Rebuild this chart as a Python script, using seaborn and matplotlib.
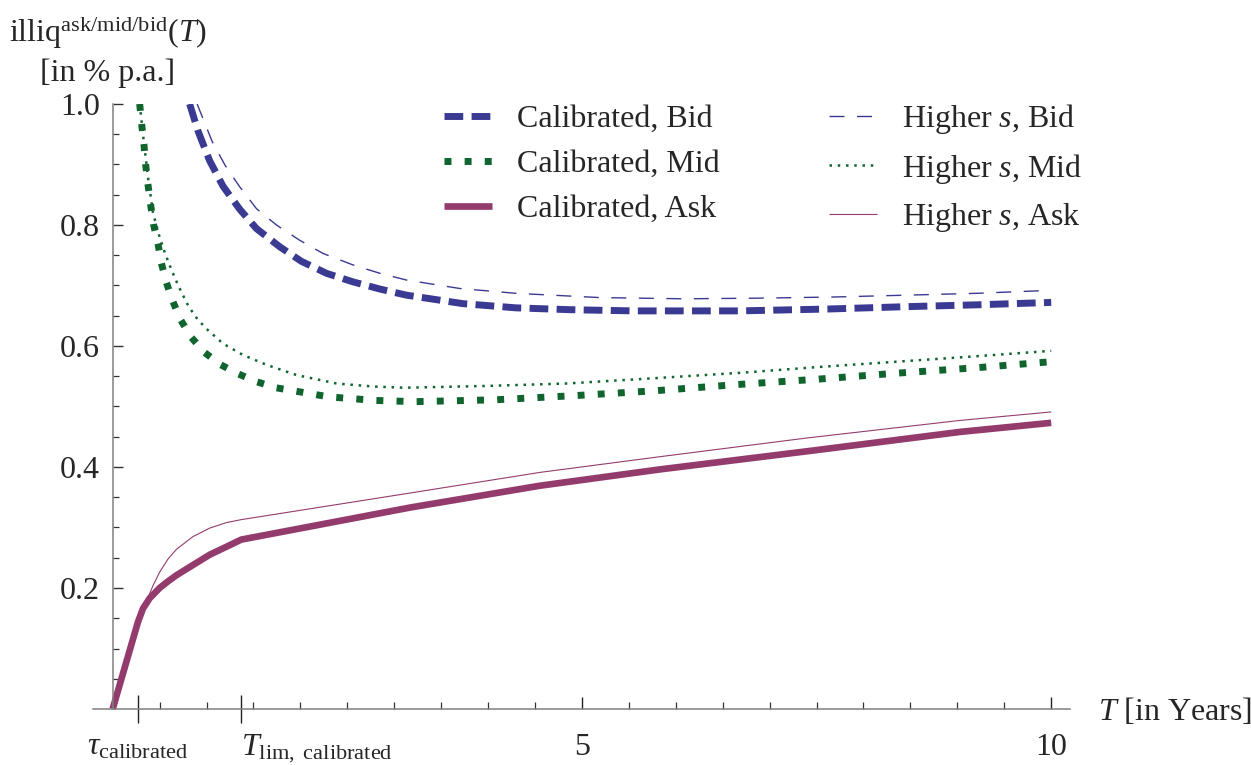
import numpy as np
import pandas as pd
import matplotlib
matplotlib.use("Agg")
import matplotlib.pyplot as plt
import matplotlib.lines as mlines
import seaborn as sns

# ---------------- data ----------------
tau_cal = 0.27
t_lim_cal = 1.365

bid_cal_x = [0.82, 0.91, 1.034, 1.176, 1.354, 1.532, 1.78, 2.01, 2.28, 2.56, 2.85, 3.13,
             3.73, 4.3, 4.87, 5.55, 6.67, 7.6, 8.46, 9.2, 10.0]
bid_cal_y = [1.0, 0.955, 0.906, 0.864, 0.826, 0.794, 0.764, 0.740, 0.720, 0.706, 0.694, 0.684,
             0.670, 0.663, 0.660, 0.658, 0.658, 0.661, 0.665, 0.668, 0.672]

bid_hi_x = [0.90, 1.06, 1.2, 1.354, 1.532, 1.745, 1.99, 2.24, 2.56, 2.85, 3.13, 3.7,
            4.3, 5.19, 6.08, 6.86, 7.7, 8.46, 9.2, 10.0]
bid_hi_y = [1.0, 0.938, 0.898, 0.863, 0.827, 0.800, 0.775, 0.753, 0.734, 0.720, 0.709, 0.695,
            0.687, 0.680, 0.678, 0.679, 0.681, 0.684, 0.687, 0.692]

mid_cal_x = [0.288, 0.31, 0.334, 0.352, 0.377, 0.405, 0.437, 0.483, 0.519, 0.572, 0.643, 0.725,
             0.839, 0.981, 1.151, 1.336, 1.532, 1.738, 2.3, 2.8, 3.22, 4.07, 4.93, 5.78,
             6.63, 7.5, 8.35, 9.2, 10.0]
mid_cal_y = [1.0, 0.965, 0.932, 0.899, 0.866, 0.833, 0.800, 0.769, 0.737, 0.705, 0.673, 0.643,
             0.614, 0.589, 0.569, 0.554, 0.541, 0.531, 0.516, 0.510, 0.508, 0.511, 0.518, 0.526,
             0.536, 0.545, 0.555, 0.564, 0.574]

mid_hi_x = [0.288, 0.33, 0.38, 0.43, 0.50, 0.554, 0.608, 0.661, 0.714, 0.81, 0.91, 1.016,
            1.176, 1.39, 1.638, 1.958, 2.385, 2.775, 3.11, 4.0, 4.84, 5.8, 6.72, 7.5, 8.35,
            9.2, 10.0]
mid_hi_y = [1.0, 0.94, 0.875, 0.82, 0.780, 0.755, 0.733, 0.713, 0.695, 0.665, 0.643, 0.626,
            0.604, 0.585, 0.569, 0.552, 0.538, 0.533, 0.531, 0.534, 0.538, 0.547, 0.556, 0.565,
            0.574, 0.583, 0.592]

ask_cal_x = [0.0, 0.27, 0.323, 0.394, 0.5, 0.59, 0.679, 0.856, 1.034, 1.21, 1.37, 3.17, 4.55,
             5.83, 7.4, 9.03, 10.0]
ask_cal_y = [0.0, 0.144, 0.166, 0.183, 0.200, 0.211, 0.221, 0.238, 0.255, 0.268, 0.280, 0.333,
             0.369, 0.396, 0.426, 0.458, 0.473]

ask_hi_x = [0.0, 0.27, 0.33, 0.387, 0.43, 0.5, 0.59, 0.68, 0.856, 1.034, 1.21, 1.37, 3.17,
            4.55, 5.83, 7.4, 9.03, 10.0]
ask_hi_y = [0.0, 0.144, 0.168, 0.188, 0.204, 0.226, 0.248, 0.264, 0.285, 0.299, 0.308, 0.313,
            0.357, 0.391, 0.417, 0.448, 0.477, 0.491]

labels_cal = ["Calibrated, Bid", "Calibrated, Mid", "Calibrated, Ask"]
labels_hi = [r"Higher $s$, Bid", r"Higher $s$, Mid", r"Higher $s$, Ask"]

y_major = [0.2, 0.4, 0.6, 0.8, 1.0]
y_major_labels = ["0.2", "0.4", "0.6", "0.8", "1.0"]
x_major = [tau_cal, t_lim_cal, 5, 10]
x_major_labels = [r"$\tau_{\mathrm{calibrated}}$", r"$T_{\mathrm{lim,\ calibrated}}$", "5", "10"]

# ---------------- style ----------------
sns.set_theme(style="white")
plt.rcParams["font.family"] = ["Liberation Serif", "DejaVu Serif"]
plt.rcParams["mathtext.fontset"] = "custom"
plt.rcParams["mathtext.rm"] = "Liberation Serif"
plt.rcParams["mathtext.it"] = "Liberation Serif:italic"
plt.rcParams["mathtext.bf"] = "Liberation Serif:bold"
plt.rcParams["lines.solid_capstyle"] = "butt"
plt.rcParams["lines.dash_capstyle"] = "butt"
plt.rcParams["lines.solid_joinstyle"] = "round"

FS = 23
C_BID = "#3a3a93"
C_MID = "#10652f"
C_ASK = "#943b6e"

fig = plt.figure(figsize=(12.51, 7.65), dpi=100)
ax = fig.add_axes([0.0743, 0.0637, 0.7810, 0.8004])
ax.set_facecolor("white")

def draw(xs, ys, color, lw, ls, label):
    df = pd.DataFrame({"x": xs, "y": ys})
    sns.lineplot(data=df, x="x", y="y", ax=ax, color=color, lw=lw, linestyle=ls,
                 estimator=None, sort=False, label=label, legend=False)
    return ax.lines[-1]

h_bid_cal = draw(bid_cal_x, bid_cal_y, C_BID, 5.0, (0, (2.7, 1.2)), labels_cal[0])
h_mid_cal = draw(mid_cal_x, mid_cal_y, C_MID, 5.0, (0, (1.0, 1.9)), labels_cal[1])
h_ask_cal = draw(ask_cal_x, ask_cal_y, C_ASK, 4.8, "-", labels_cal[2])
h_bid_hi = draw(bid_hi_x, bid_hi_y, C_BID, 1.0, (0, (10.8, 9.0)), labels_hi[0])
h_mid_hi = draw(mid_hi_x, mid_hi_y, C_MID, 1.8, (0, (1.0, 2.3)), labels_hi[1])
h_ask_hi = draw(ask_hi_x, ask_hi_y, C_ASK, 0.8, "-", labels_hi[2])

ax.set_xlim(-0.21, 10.2)
ax.set_ylim(-0.012, 1.0)
ax.set_xlabel("")
ax.set_ylabel("")

for s in ["top", "right"]:
    ax.spines[s].set_visible(False)
ax.spines["left"].set_position(("data", 0))
ax.spines["bottom"].set_position(("data", 0))
ax.spines["left"].set_bounds(0, 1.0)
for s in ["left", "bottom"]:
    ax.spines[s].set_color("#808080")
    ax.spines[s].set_linewidth(1.1)

ax.set_yticks(y_major)
ax.set_yticklabels(y_major_labels)
ax.set_yticks(np.arange(0.05, 1.0, 0.05), minor=True)
ax.tick_params(axis="y", which="major", direction="in", length=7, width=1.0,
               color="#333333", labelsize=FS, pad=9, left=True)
ax.tick_params(axis="y", which="minor", direction="in", length=4.5, width=0.9,
               color="#333333", left=True)

ax.set_xticks(x_major)
ax.set_xticklabels(x_major_labels)
ax.set_xticks(np.arange(0.5, 10.0, 0.5), minor=True)
ax.tick_params(axis="x", which="major", direction="inout", length=20, width=1.0,
               color="#222222", labelsize=FS, pad=7, bottom=True)
ax.tick_params(axis="x", which="minor", direction="in", length=5, width=0.9,
               color="#333333", bottom=True)
for t in ax.xaxis.get_major_ticks()[2:]:
    t.tick1line.set_marker(mlines.TICKUP)
    t.tick1line.set_markersize(8.5)
xt_labels = ax.get_xticklabels()
xt_labels[1].set_horizontalalignment("left")

ax.grid(False)

# axis titles
fig.text(108 / 1251, 1 - 42 / 765, r"$\mathrm{illiq}^{\mathrm{ask/mid/bid}}(T)$",
         ha="center", va="baseline", fontsize=FS)
fig.text(108 / 1251, 1 - 81 / 765, "[in % p.a.]", ha="center", va="baseline", fontsize=FS)
fig.text(1098 / 1251, 1 - 708 / 765, r"$T$ [in Years]", ha="left", va="center_baseline",
         fontsize=FS)

handles = [h_bid_cal, h_mid_cal, h_ask_cal, h_bid_hi, h_mid_hi, h_ask_hi]
labels = labels_cal + labels_hi
ax.legend(handles, labels, ncol=2, frameon=False, loc="upper left",
          bbox_to_anchor=(444 / 1251, 1 - 102 / 765), bbox_transform=fig.transFigure,
          handlelength=1.5, handletextpad=0.8, columnspacing=3.4, labelspacing=0.49,
          borderpad=0, borderaxespad=0, fontsize=FS)

fig.savefig("out.png", dpi=100, facecolor="white")
